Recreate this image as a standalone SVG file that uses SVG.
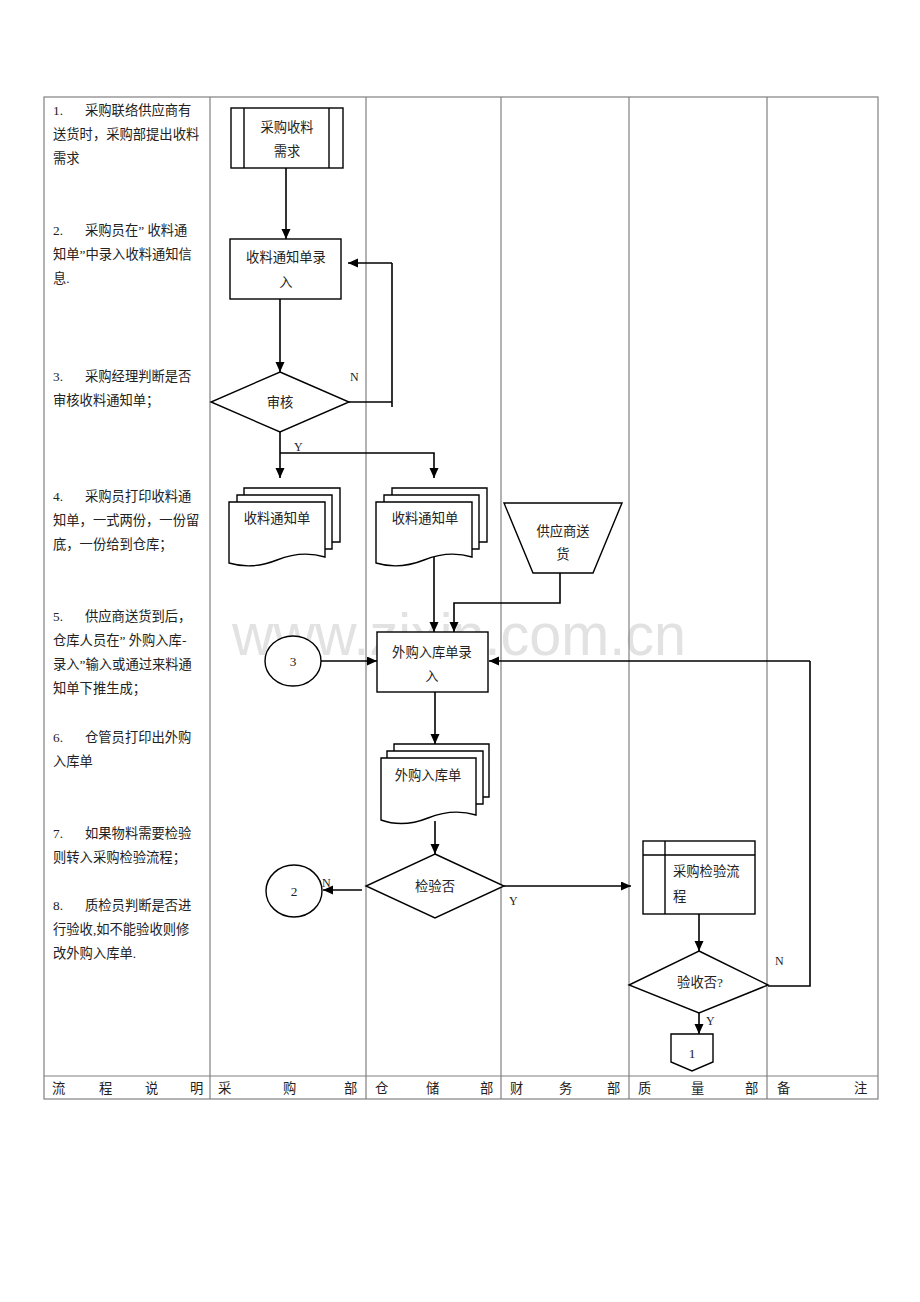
<svg xmlns="http://www.w3.org/2000/svg" width="920" height="1302" viewBox="0 0 920 1302">
<style>
.grid{stroke:#808080;stroke-width:1.2;fill:none}
.shape{stroke:#000;stroke-width:1.4;fill:#fff}
.ln{stroke:#000;stroke-width:1.6;fill:none}
.ah{stroke:#000;stroke-width:1.6;fill:none;marker-end:url(#arrow)}
text{font-family:"Liberation Serif","Noto Sans CJK SC",serif;font-size:13.3px;fill:#222}
.c{text-anchor:middle}
.lbl{font-size:12px}
.wm{font-family:"Liberation Sans",sans-serif;font-size:60px;fill:#e2e2e2}
</style>
<defs>
<marker id="arrow" markerUnits="userSpaceOnUse" markerWidth="10" markerHeight="10" refX="10" refY="4.5" orient="auto">
<path d="M0,0 L10,4.5 L0,9 Z" fill="#000"/>
</marker>
</defs>
<rect width="920" height="1302" fill="#fff"/>
<text class="wm" x="232" y="655" textLength="454" lengthAdjust="spacingAndGlyphs">www.zixin.com.cn</text>

<g id="table">
<rect class="grid" x="44" y="97" width="834" height="1002"/>
<line class="grid" x1="44" y1="1076" x2="878" y2="1076"/>
<line class="grid" x1="210" y1="97" x2="210" y2="1099"/>
<line class="grid" x1="366" y1="97" x2="366" y2="1099"/>
<line class="grid" x1="501" y1="97" x2="501" y2="1099"/>
<line class="grid" x1="629" y1="97" x2="629" y2="1099"/>
<line class="grid" x1="767" y1="97" x2="767" y2="1099"/>
</g>

<g id="footer">
<text x="52" y="1093">流</text><text x="99" y="1093">程</text><text x="145" y="1093">说</text><text x="190" y="1093">明</text>
<text x="218" y="1093">采</text><text x="283" y="1093">购</text><text x="344" y="1093">部</text>
<text x="375" y="1093">仓</text><text x="426" y="1093">储</text><text x="480" y="1093">部</text>
<text x="510" y="1093">财</text><text x="559" y="1093">务</text><text x="607" y="1093">部</text>
<text x="638" y="1093">质</text><text x="691" y="1093">量</text><text x="745" y="1093">部</text>
<text x="777" y="1093">备</text><text x="854" y="1093">注</text>
</g>

<g id="description">
<text x="53" y="115">1.</text><text x="85" y="115">采购联络供应商有</text>
<text x="53" y="139">送货时，采购部提出收料</text>
<text x="53" y="163">需求</text>
<text x="53" y="235">2.</text><text x="85" y="235">采购员在” 收料通</text>
<text x="53" y="259">知单”中录入收料通知信</text>
<text x="53" y="283">息.</text>
<text x="53" y="381">3.</text><text x="85" y="381">采购经理判断是否</text>
<text x="53" y="405">审核收料通知单；</text>
<text x="53" y="501">4.</text><text x="85" y="501">采购员打印收料通</text>
<text x="53" y="525">知单，一式两份，一份留</text>
<text x="53" y="549">底，一份给到仓库；</text>
<text x="53" y="621">5.</text><text x="85" y="621">供应商送货到后，</text>
<text x="53" y="645">仓库人员在” 外购入库-</text>
<text x="53" y="669">录入”输入或通过来料通</text>
<text x="53" y="693">知单下推生成；</text>
<text x="53" y="742">6.</text><text x="85" y="742">仓管员打印出外购</text>
<text x="53" y="766">入库单</text>
<text x="53" y="838">7.</text><text x="85" y="838">如果物料需要检验</text>
<text x="53" y="862">则转入采购检验流程；</text>
<text x="53" y="910">8.</text><text x="85" y="910">质检员判断是否进</text>
<text x="53" y="934">行验收,如不能验收则修</text>
<text x="53" y="958">改外购入库单.</text>
</g>

<g id="connectors">
<line class="ah" x1="286" y1="168" x2="286" y2="239"/>
<line class="ah" x1="280" y1="299" x2="280" y2="372"/>
<polyline class="ln" points="349,402 392,402"/>
<line class="ln" x1="392" y1="263" x2="392" y2="407"/>
<line class="ah" x1="392" y1="263" x2="348" y2="263"/>
<line class="ah" x1="280" y1="432" x2="280" y2="478"/>
<polyline class="ah" points="280,453 434,453 434,478"/>
<line class="ah" x1="434" y1="557" x2="434" y2="632"/>
<polyline class="ah" points="560,573 560,603 454,603 454,632"/>
<line class="ah" x1="321" y1="661" x2="377" y2="661"/>
<polyline class="ln" points="768,986 810,986 810,661"/>
<line class="ah" x1="810" y1="661" x2="489" y2="661"/>
<line class="ah" x1="435" y1="692" x2="435" y2="744"/>
<line class="ah" x1="435" y1="821" x2="435" y2="854"/>
<line class="ah" x1="362" y1="890" x2="323" y2="890"/>
<line class="ah" x1="504" y1="886" x2="631" y2="886"/>
<line class="ah" x1="699" y1="914" x2="699" y2="951"/>
<line class="ah" x1="699" y1="1013" x2="699" y2="1034"/>
<text class="lbl" x="350" y="381">N</text>
<text class="lbl" x="294" y="451">Y</text>
<text class="lbl" x="322" y="887">N</text>
<text class="lbl" x="509" y="905">Y</text>
<text class="lbl" x="775" y="965">N</text>
<text class="lbl" x="706" y="1025">Y</text>
</g>

<g id="n_demand">
<rect class="shape" x="231" y="108" width="112" height="60"/>
<line class="shape" x1="244" y1="108" x2="244" y2="168"/>
<line class="shape" x1="329" y1="108" x2="329" y2="168"/>
<text class="c" x="287" y="132">采购收料</text>
<text class="c" x="287" y="156">需求</text>
</g>

<g id="n_notice_entry">
<rect class="shape" x="230" y="239" width="111" height="60"/>
<text class="c" x="286" y="262">收料通知单录</text>
<text class="c" x="286" y="287">入</text>
</g>

<g id="n_audit">
<polygon class="shape" points="280,372 349,402 280,432 211,402"/>
<text class="c" x="280" y="407">审核</text>
</g>

<g id="n_doc1">
<polyline class="shape" points="244,495 244,488 340,488 340,542 332,542"/>
<polyline class="shape" points="237,502 237,495 332,495 332,549 325,549"/>
<path class="shape" d="M229,502 H325 V557 Q302,550 277,560 T229,563 Z"/>
<text class="c" x="277" y="523">收料通知单</text>
</g>

<g id="n_doc2">
<polyline class="shape" points="392,495 392,488 487,488 487,542 479,542"/>
<polyline class="shape" points="384,502 384,495 479,495 479,549 472,549"/>
<path class="shape" d="M376,502 H472 V557 Q449,550 424,560 T376,563 Z"/>
<text class="c" x="425" y="523">收料通知单</text>
</g>

<g id="n_supplier">
<polygon class="shape" points="504,503 622,503 593,573 533,573"/>
<text class="c" x="563" y="536">供应商送</text>
<text class="c" x="563" y="559">货</text>
</g>

<g id="n_c3">
<ellipse class="shape" cx="293" cy="661" rx="28" ry="25"/>
<text class="c" x="293" y="666">3</text>
</g>

<g id="n_inbound_entry">
<rect class="shape" x="377" y="632" width="111" height="60"/>
<text class="c" x="432" y="657">外购入库单录</text>
<text class="c" x="432" y="681">入</text>
</g>

<g id="n_doc3">
<polyline class="shape" points="394,751 394,744 489,744 489,797 483,797"/>
<polyline class="shape" points="387,758 387,751 483,751 483,804 476,804"/>
<path class="shape" d="M381,758 H476 V815 Q453,808 428,818 T381,820 Z"/>
<text class="c" x="428" y="780">外购入库单</text>
</g>

<g id="n_inspect">
<polygon class="shape" points="435,854 504,886 435,918 366,886"/>
<text class="c" x="435" y="891">检验否</text>
</g>

<g id="n_c2">
<ellipse class="shape" cx="294" cy="891" rx="28" ry="26"/>
<text class="c" x="294" y="896">2</text>
</g>

<g id="n_inspect_flow">
<rect class="shape" x="643" y="841" width="112" height="73"/>
<line class="shape" x1="643" y1="855" x2="755" y2="855"/>
<line class="shape" x1="665" y1="841" x2="665" y2="914"/>
<text x="673" y="876">采购检验流</text>
<text x="673" y="901">程</text>
</g>

<g id="n_accept">
<polygon class="shape" points="699,951 768,985 699,1013 629,985"/>
<text class="c" x="700" y="987">验收否?</text>
</g>

<g id="n_c1">
<polygon class="shape" points="671,1034 713,1034 713,1062 692,1071 671,1062"/>
<text class="c" x="692" y="1058">1</text>
</g>
</svg>
